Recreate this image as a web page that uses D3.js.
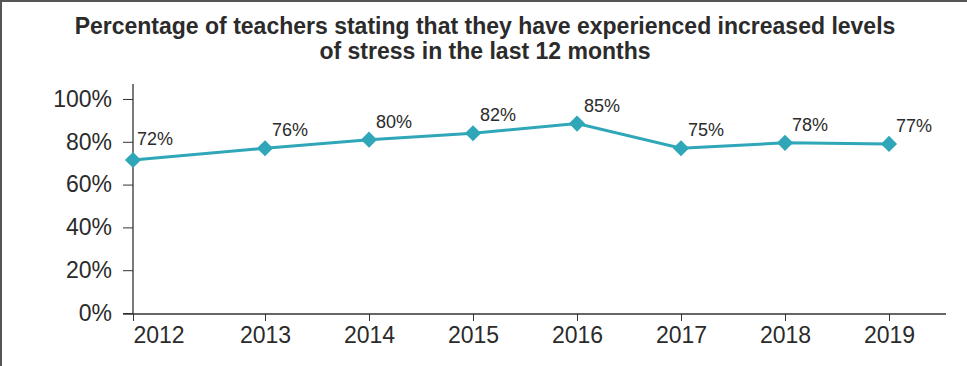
<!DOCTYPE html>
<html lang="en">

<head>
    <meta charset="UTF-8" />
    <title>Teacher stress</title>
    <script src="https://d3js.org/d3.v7.min.js"></script>
    <style>
        body {
            margin: 0;
            background: #fff;
        }

        svg text {
            font-family: "Liberation Sans", Arial, sans-serif;
            fill: #2b2b2b;
        }
    </style>
</head>

<body>
    <script>

        // data
        var years = [2012, 2013, 2014, 2015, 2016, 2017, 2018, 2019];
        var values = [71.5, 77, 81, 84, 88.5, 77, 79.5, 79];
        var labels = ["72%", "76%", "80%", "82%", "85%", "75%", "78%", "77%"];
        var yTicks = [0, 20, 40, 60, 80, 100];
        var titleLines = [
            "Percentage of teachers stating that they have experienced increased levels",
            "of stress in the last 12 months"
        ];

        var w = 967;
        var h = 366;
        var plotLeft = 133, plotRight = 946, plotTop = 84, plotBottom = 314;

        var svg = d3.select("body")
            .append("svg")
            .attr("width", w)
            .attr("height", h);

        // frame (only top and left edges show in the picture)
        svg.append("path")
            .attr("d", `M1,${h} V1 H${w}`)
            .attr("fill", "none")
            .attr("stroke", "#555")
            .attr("stroke-width", 2);

        // title
        svg.append("text")
            .attr("text-anchor", "middle")
            .attr("x", 485)
            .attr("y", 34)
            .style("font-size", "23px")
            .style("font-weight", "bold")
            .selectAll("tspan")
            .data(titleLines)
            .enter()
            .append("tspan")
            .attr("x", 485)
            .attr("dy", function (d, i) { return i === 0 ? 0 : 25; })
            .text(function (d) { return d; });

        // scales: first category sits on the y axis, the rest are evenly spaced
        var xScale = d3.scaleLinear()
            .domain([years[0], years[1], years[years.length - 1]])
            .range([plotLeft, 265, 889]);

        var yScale = d3.scaleLinear()
            .domain([0, 107])
            .range([313, plotTop]);

        // y axis
        var yAxis = svg.append("g")
            .attr("transform", `translate(${plotLeft}, 0)`)
            .call(d3.axisLeft(yScale)
                .tickValues(yTicks)
                .tickFormat(function (d) { return d + "%"; })
                .tickSize(10)
                .tickPadding(11)
                .tickSizeOuter(0));
        yAxis.select(".domain").remove();
        yAxis.selectAll("text").style("font-size", "23px");
        yAxis.selectAll("line").attr("stroke", "#333");

        svg.append("line")
            .attr("x1", plotLeft).attr("x2", plotLeft)
            .attr("y1", plotTop).attr("y2", plotBottom)
            .attr("stroke", "#333")
            .attr("stroke-width", 1.3);

        // x axis
        var xAxis = svg.append("g")
            .attr("transform", `translate(0, ${plotBottom})`)
            .call(d3.axisBottom(xScale)
                .tickValues(years)
                .tickFormat(d3.format("d"))
                .tickSize(7)
                .tickPadding(6)
                .tickSizeOuter(0));
        xAxis.select(".domain").remove();
        xAxis.selectAll("line").attr("stroke", "#333");
        xAxis.selectAll("text")
            .style("font-size", "23px")
            .attr("text-anchor", function (d, i) { return i === 0 ? "start" : "middle"; });

        svg.append("line")
            .attr("x1", plotLeft - 10).attr("x2", plotRight)
            .attr("y1", plotBottom).attr("y2", plotBottom)
            .attr("stroke", "#333")
            .attr("stroke-width", 1.3);

        var data = years.map(function (y, i) {
            return { year: y, value: values[i], label: labels[i] };
        });

        var teal = "#2fa7b8";

        // line
        svg.append("path")
            .datum(data)
            .attr("fill", "none")
            .attr("stroke", teal)
            .attr("stroke-width", 3)
            .attr("d", d3.line()
                .x(function (d) { return xScale(d.year); })
                .y(function (d) { return yScale(d.value); }));

        // diamond markers
        svg.selectAll(".marker")
            .data(data)
            .enter()
            .append("path")
            .attr("class", "marker")
            .attr("fill", teal)
            .attr("d", d3.symbol().type(d3.symbolSquare).size(130))
            .attr("transform", function (d) {
                return `translate(${xScale(d.year)}, ${yScale(d.value)}) rotate(45)`;
            });

        // value labels
        svg.selectAll(".value-label")
            .data(data)
            .enter()
            .append("text")
            .attr("class", "value-label")
            .attr("x", function (d) { return xScale(d.year); })
            .attr("y", function (d) { return yScale(d.value); })
            .attr("dx", function (d, i) { return i === 0 ? 4 : 7; })
            .attr("dy", function (d, i) { return i === 0 ? -15 : -12; })
            .style("font-size", "18px")
            .text(function (d) { return d.label; });

    </script>
</body>

</html>
